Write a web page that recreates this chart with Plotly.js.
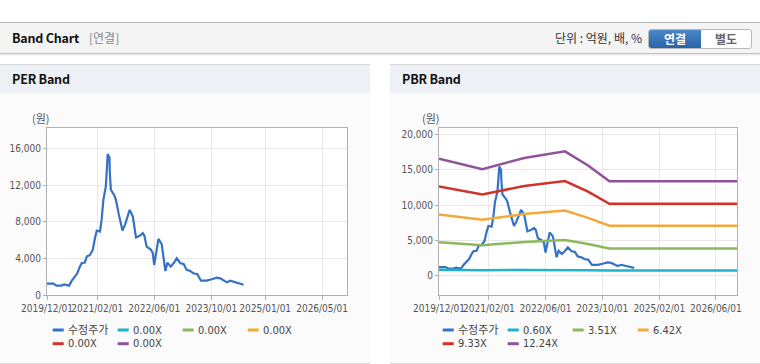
<!DOCTYPE html>
<html><head><meta charset="utf-8">
<script src="https://cdn.plot.ly/plotly-3.0.1.min.js"></script>
<style>
body{margin:0;width:760px;height:364px;background:#fff;overflow:hidden;position:relative;font-family:"Noto Sans CJK KR","Noto Sans",sans-serif}
#hdr{position:absolute;left:0;top:22px;width:760px;height:30px;background:#f4f4f4;border-top:1px solid #b9b9b9;border-bottom:1px solid #c4c4c4;box-shadow:0 1px 2px rgba(0,0,0,.12)}
#hdr .t{position:absolute;left:12px;top:6px;font-size:12.5px;font-weight:700;color:#111;line-height:18px;letter-spacing:-0.2px}
#hdr .s{position:absolute;left:89px;top:6px;font-size:12px;color:#888;line-height:18px}
#hdr .u{position:absolute;right:118px;top:6px;font-size:12px;color:#333;line-height:18px}
#btns{position:absolute;left:648px;top:6px;width:102px;height:18px;border:1px solid #b8b8b8;border-radius:3px;overflow:hidden;background:#fff}
#btns div{position:absolute;top:0;height:18px;line-height:18px;text-align:center;font-size:12px;font-weight:700}
#b1{left:0;width:52px;background:linear-gradient(#4a86c8,#2a64a8);color:#fff}
#b2{left:52px;width:50px;color:#666}
.panel{position:absolute;top:64px;width:370px;height:298px;border-top:1px solid #d6d6d6;border-bottom:1px solid #d6d6d6;background:#fbfbfb}
.panel .h{position:absolute;left:0;top:0;width:370px;height:28px;background:#edf1f6}
.panel .h span{position:absolute;left:12px;top:5px;font-size:12.5px;font-weight:700;color:#111;line-height:18px;letter-spacing:-0.2px}
.chart{position:absolute;top:28px;left:0;width:370px;height:269px}
</style></head>
<body>
<div id="hdr"><span class="t">Band Chart</span><span class="s">[연결]</span><span class="u">단위 : 억원, 배, %</span>
<div id="btns"><div id="b1">연결</div><div id="b2">별도</div></div></div>
<div class="panel" style="left:0"><div class="h"><span>PER Band</span></div><div class="chart" id="per"></div></div>
<div class="panel" style="left:390px"><div class="h"><span>PBR Band</span></div><div class="chart" id="pbr"></div></div>
<script>
// ---- data ----
const priceDates = ["2019-12-01","2020-01-25","2020-02-20","2020-04-04","2020-04-25","2020-05-15","2020-06-06","2020-06-28","2020-07-25","2020-08-15","2020-09-06","2020-09-21","2020-10-18","2020-11-04","2020-12-01","2020-12-25","2021-01-12","2021-01-28","2021-02-24","2021-03-10","2021-03-25","2021-04-15","2021-05-01","2021-05-16","2021-05-19","2021-05-28","2021-06-28","2021-07-10","2021-08-01","2021-09-04","2021-09-25","2021-11-04","2021-12-01","2021-12-28","2022-01-28","2022-02-24","2022-03-10","2022-03-28","2022-05-01","2022-05-19","2022-06-01","2022-06-22","2022-07-07","2022-08-04","2022-08-19","2022-09-04","2022-09-22","2022-10-19","2022-11-13","2022-12-10","2023-01-10","2023-02-07","2023-03-04","2023-04-04","2023-05-01","2023-06-04","2023-07-04","2023-08-22","2023-10-04","2023-11-16","2023-12-16","2024-01-13","2024-02-10","2024-03-10","2024-04-07","2024-05-04","2024-06-04","2024-07-01"];
const price = [1240,1240,1030,1030,1170,1100,1030,1540,2010,2380,3110,3480,3550,4210,4390,4940,6220,7060,6950,8230,10430,11900,15450,15000,13360,11530,10870,10430,8970,7060,7690,9330,8600,6300,6480,6770,6480,5310,5010,4650,3290,4940,6150,5560,4210,2630,3550,3110,3480,4030,3480,3400,2750,2630,2380,2270,1570,1570,1720,1900,1830,1570,1390,1570,1460,1430,1280,1130];
const bandDates = ["2019-12-01","2020-12-07","2021-12-01","2022-11-15","2023-06-01","2023-12-01","2026-12-31"];
const band060 = [860,790,850,880,810,750,750];
const band351 = [4740,4330,4790,5060,4500,3880,3880];
const band642 = [8670,7920,8760,9240,8200,7090,7090];
const band933 = [12620,11490,12710,13400,11900,10200,10200];
const band1224 = [16560,15080,16670,17600,15600,13370,13370];
const perNames = ["수정주가","0.00X","0.00X","0.00X","0.00X","0.00X"];
const pbrNames = ["수정주가","0.60X","3.51X","6.42X","9.33X","12.24X"];
const colors = ["#3572c6","#1db3c8","#8cb85c","#f2a93b","#d0332b","#8e5499"];
const perTicks = ["2019-12-01","2021-02-01","2022-06-01","2023-10-01","2025-01-01","2026-05-01"];
const pbrTicks = ["2019-12-01","2021-02-01","2022-06-01","2023-10-01","2025-02-01","2026-06-01"];
const xRange = ["2019-12-01","2026-11-29"];

const TF = {family:'"Liberation Sans Narrow","DejaVu Sans Condensed","Liberation Sans",sans-serif',size:10,color:'#555'};
function fmt(d){return d.replace(/-/g,'/');}

function build(div, names, traces, ticks, yr, ydtick, ml){
  const W=370,H=269,mt=35,mb=67,mr=23;
  const pw=W-ml-mr, ph=H-mt-mb;
  const px=(x)=>(x-ml)/pw;
  const shapes=[], ann=[];
  ann.push({xref:'paper',yref:'paper',x:px(41),y:1+10/ph,text:'(원)',showarrow:false,xanchor:'center',yanchor:'middle',
    font:{family:'"Noto Sans CJK KR",sans-serif',size:11,color:'#555'}});
  names.forEach((n,i)=>{
    const col=i%4,row=Math.floor(i/4);
    const x0=52.7+65*col, yy=35+13.7*row;
    shapes.push({type:'line',xref:'paper',yref:'paper',x0:px(x0),x1:px(x0+11),y0:-yy/ph,y1:-yy/ph,line:{color:colors[i],width:3}});
    ann.push({xref:'paper',yref:'paper',x:px(x0+13.5),y:-yy/ph,text:n,showarrow:false,xanchor:'left',yanchor:'middle',
      font:{family:'"Liberation Sans Narrow","DejaVu Sans Condensed","Liberation Sans","Noto Sans CJK KR",sans-serif',size:11,color:'#444'}});
  });
  Plotly.newPlot(div, traces, {
    width:W,height:H,margin:{l:ml,r:mr,t:mt,b:mb,pad:0},
    paper_bgcolor:'#fbfbfb',plot_bgcolor:'#ffffff',showlegend:false,
    xaxis:{type:'date',range:xRange,tickvals:ticks,ticktext:ticks.map(fmt),tickfont:TF,tickangle:0,
      showgrid:true,gridcolor:'#e8e8e8',showline:true,linecolor:'#b0b0b0',mirror:true,
      ticks:'outside',ticklen:4,tickcolor:'#b0b0b0',zeroline:false,fixedrange:true},
    yaxis:{range:yr,dtick:ydtick,tick0:0,tickformat:',d',tickfont:TF,showgrid:true,gridcolor:'#e8e8e8',
      showline:true,linecolor:'#b0b0b0',mirror:true,ticks:'outside',ticklen:3,tickcolor:'#b0b0b0',zeroline:false,fixedrange:true},
    shapes:shapes,annotations:ann
  },{displayModeBar:false,staticPlot:true});
}

const priceTrace = {x:priceDates,y:price,mode:'lines',name:'수정주가',line:{color:colors[0],width:2.2},hoverinfo:'skip'};
build('per', perNames, [priceTrace], perTicks, [0,18300], 4000, 47);

const bands=[band060,band351,band642,band933,band1224];
const pbrTraces=[priceTrace].concat(bands.map((b,i)=>({x:bandDates,y:b,mode:'lines',name:pbrNames[i+1],line:{color:colors[i+1],width:2.5},hoverinfo:'skip'})));
build('pbr', pbrNames, pbrTraces, pbrTicks, [-2700,20900], 5000, 49);
</script>
</body></html>
